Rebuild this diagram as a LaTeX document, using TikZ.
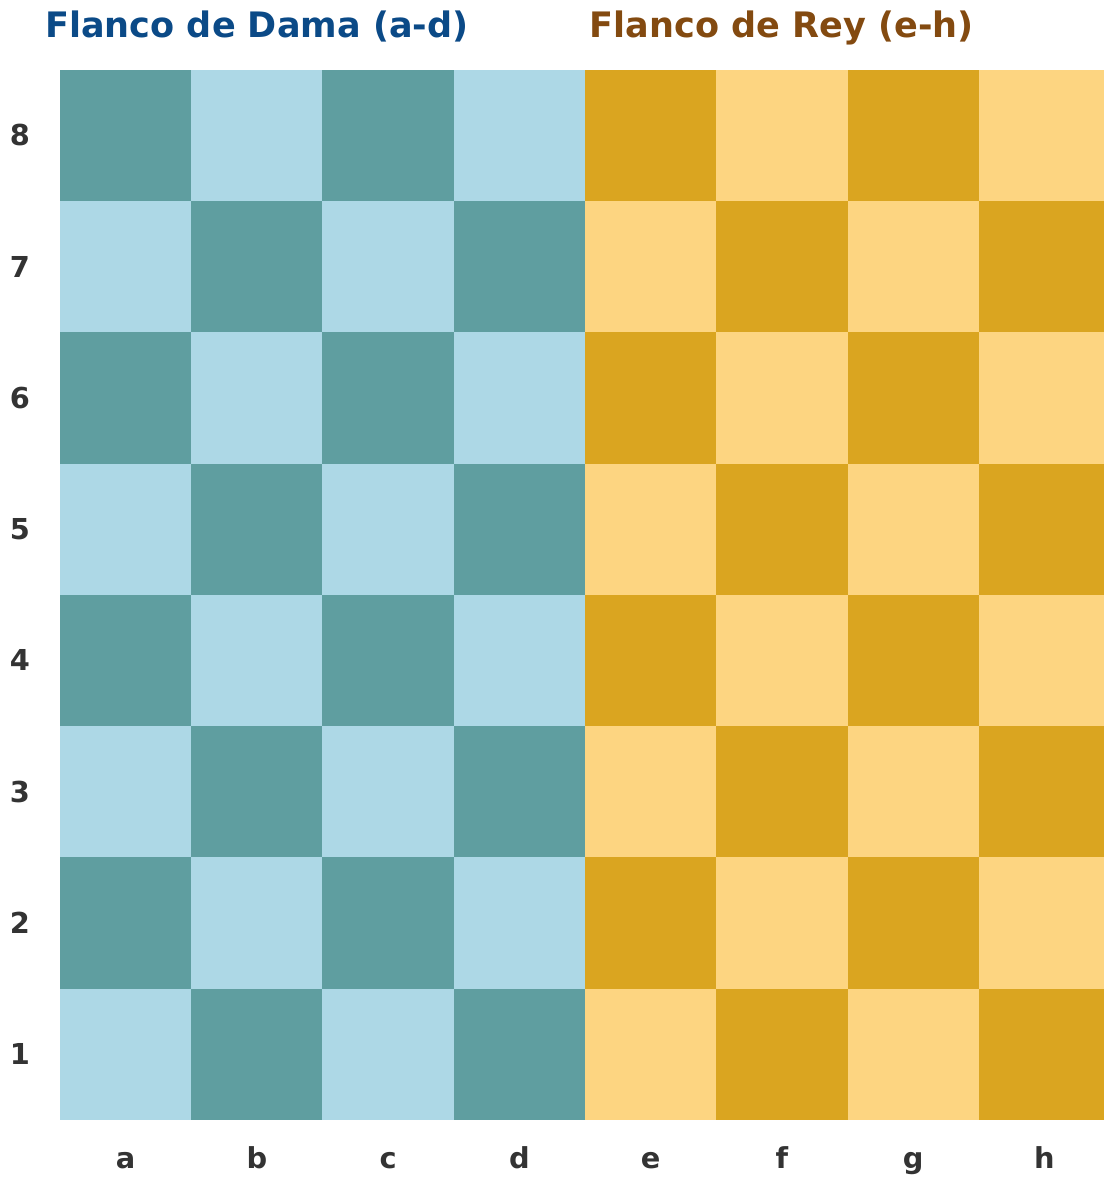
\documentclass[tikz,border=0pt]{standalone}
\usepackage{fontspec}
\setmainfont{DejaVu Sans}
\usepackage{tikz}
\usetikzlibrary{positioning}

\definecolor{dama1}{HTML}{5F9EA0}
\definecolor{dama0}{HTML}{ADD8E6}
\definecolor{rey1}{HTML}{DAA520}
\definecolor{rey0}{HTML}{FDD581}
\definecolor{azultitulo}{HTML}{0B4A87}
\definecolor{marrontitulo}{HTML}{834A10}
\definecolor{etiqueta}{HTML}{333333}

\begin{document}
\begin{tikzpicture}[x=2cm, y=2cm,
    titulo/.style={anchor=base, font=\bfseries\fontsize{15.2}{18}\selectfont},
    coord/.style={anchor=base, text=etiqueta, font=\bfseries\fontsize{12.5}{15}\selectfont}]
    \useasboundingbox (-0.457,-0.442) rectangle (7.947,8.533);

    \foreach \c in {0,...,7} {
        \foreach \r in {0,...,7} {
            \pgfmathtruncatemacro{\impar}{mod(\c+\r,2)}
            \ifnum\c<4 \def\lado{dama}\else\def\lado{rey}\fi
            \fill [\lado\impar] (\c,\r) rectangle ++(1,1);
        }
    }

    \foreach \f [count=\i from 0] in {a,...,h} { \node (col\f) at (\i+0.5,-0.366) [coord] {\f}; }
    \foreach \r in {1,...,8} { \node (fila\r) at (-0.305,\r-0.579) [coord] {\r}; }

    \node (dama) at (1.5,8.244) [titulo, text=azultitulo] {Flanco de Dama (a-d)};
    \node (rey) at (5.5,8.244) [titulo, text=marrontitulo] {Flanco de Rey (e-h)};
\end{tikzpicture}
\end{document}
